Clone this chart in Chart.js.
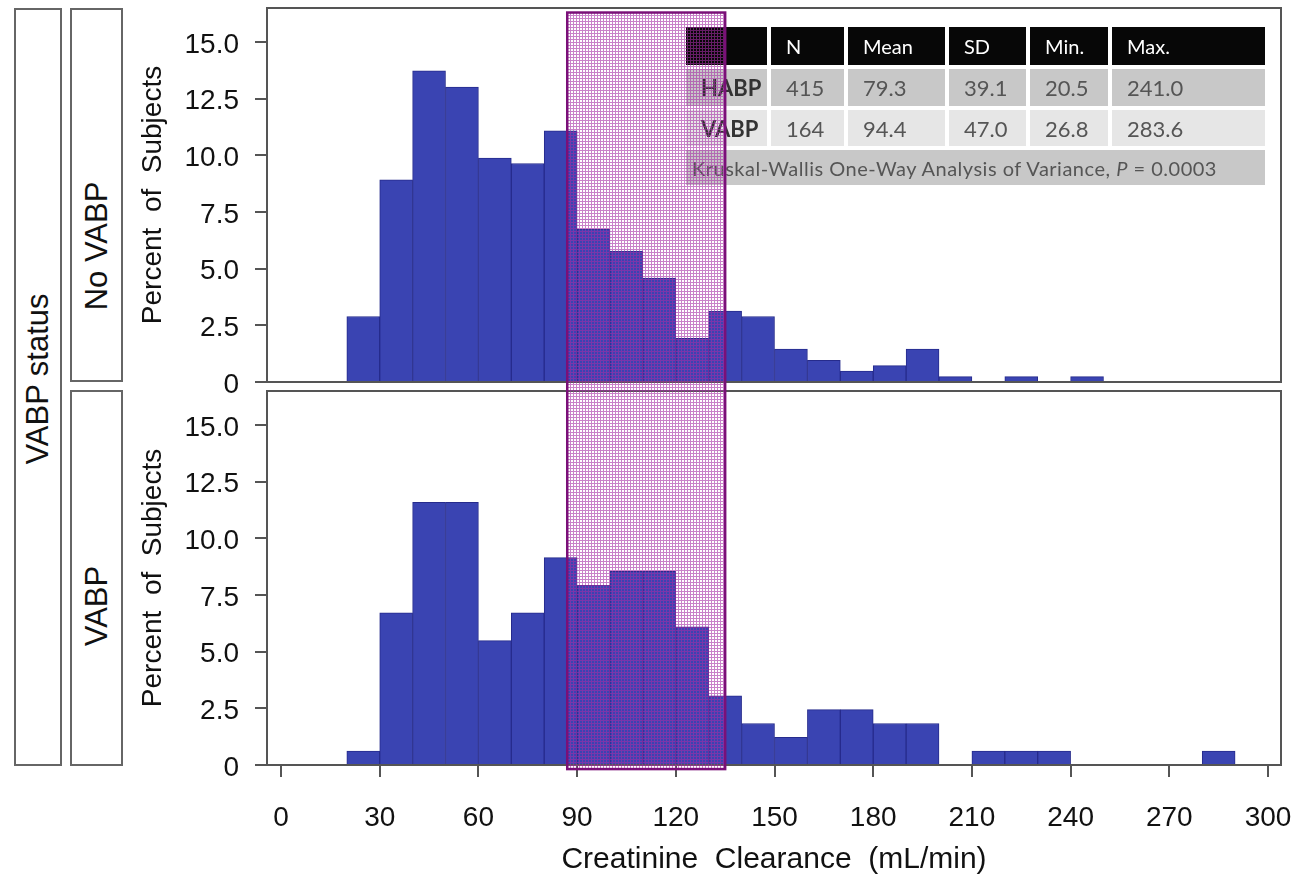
<!DOCTYPE html>
<html>
<head>
<meta charset="utf-8">
<script src="https://cdn.jsdelivr.net/npm/chart.js@4.4.1/dist/chart.umd.min.js"></script>
<style>
  html, body { margin: 0; padding: 0; background: #fff; overflow: hidden; }
  #wrap { position: relative; width: 1301px; height: 878px; }
  #wrap canvas { position: absolute; left: 0; top: 0; }
  #c1 { z-index: 1; }
  #c2 { z-index: 3; }
  .strip { position: absolute; z-index: 4; border: 2px solid #666; box-sizing: border-box; background: #fff; }
  .strip span { position: absolute; left: 50%; white-space: nowrap; font: 31px "Liberation Sans", Arial, sans-serif; color: #111;
                transform: translate(-50%, -50%) rotate(-90deg); }
  #stats { position: absolute; z-index: 2; left: 682px; top: 23px; border-collapse: separate; border-spacing: 4px 4px;
           font-family: Lato, "Open Sans", sans-serif; }
  #stats td { padding: 0 0 0 15px; font-size: 22px; color: #555; white-space: nowrap; }
  #stats tr.hd td { background: #070707; color: #fff; height: 38px; font-size: 20px; }
  #stats tr.r1 td { background: #c8c8c8; height: 37px; }
  #stats tr.r2 td { background: #e6e6e6; height: 36px; }
  #stats tr.r3 td { background: #c8c8c8; height: 35px; font-size: 20px; padding-left: 6px; letter-spacing: 0.5px; }
  #stats td.lbl { color: #333; font-weight: bold; }
</style>
</head>
<body>
<div id="wrap">
  <canvas id="c1" width="1301" height="878"></canvas>
  <table id="stats"></table>
  <canvas id="c2" width="1301" height="878"></canvas>
  <div class="strip" style="left:14px;top:8px;width:48px;height:758px"><span style="top:369px">VABP status</span></div>
  <div class="strip" style="left:70px;top:8px;width:53px;height:374px"><span style="top:236px">No VABP</span></div>
  <div class="strip" style="left:70px;top:390px;width:53px;height:376px"><span style="top:214px">VABP</span></div>
</div>
<script>
// histogram bins (mL/min, 10 wide) and percent of subjects per bin
const binStarts = [20, 30, 40, 50, 60, 70, 80, 90, 100, 110, 120, 130, 140, 150, 160, 170, 180, 190, 200, 210, 220, 230, 240, 250, 260, 270, 280];
const noVabpPct = [2.89, 8.92, 13.73, 13.01, 9.88, 9.64, 11.08, 6.75, 5.78, 4.58, 1.93, 3.13, 2.89, 1.45, 0.96, 0.48, 0.72, 1.45, 0.24, 0, 0.24, 0, 0.24, 0, 0, 0, 0];
const vabpPct   = [0.61, 6.71, 11.59, 11.59, 5.49, 6.71, 9.15, 7.93, 8.54, 8.54, 6.10, 3.05, 1.83, 1.22, 2.44, 2.44, 1.83, 1.83, 0, 0.61, 0.61, 0.61, 0, 0, 0, 0, 0.61];
const xTicks = [0, 30, 60, 90, 120, 150, 180, 210, 240, 270, 300];
const yTicks = [0, 2.5, 5, 7.5, 10, 12.5, 15];
const highlightX = [87, 135];     // shaded band, mL/min
const highlightTop = 16.3;        // top panel y value
const highlightBottom = -0.18;    // bottom panel y value

const statsHeader = ['', 'N', 'Mean', 'SD', 'Min.', 'Max.'];
const statsRows = [
  ['HABP', '415', '79.3', '39.1', '20.5', '241.0'],
  ['VABP', '164', '94.4', '47.0', '26.8', '283.6']
];
const statsColWidths = [81, 73, 97, 77, 78, 153];
const testNote = 'Kruskal-Wallis One-Way Analysis of Variance, <i>P</i> = 0.0003';

// stats table
(() => {
  let h = '<colgroup>' + statsColWidths.map(w => `<col style="width:${w}px">`).join('') + '</colgroup>';
  h += '<tr class="hd">' + statsHeader.map(t => `<td>${t}</td>`).join('') + '</tr>';
  statsRows.forEach((r, i) => {
    h += `<tr class="r${i + 1}">` + r.map((t, j) => `<td${j === 0 ? ' class="lbl"' : ''}>${t}</td>`).join('') + '</tr>';
  });
  h += `<tr class="r3"><td colspan="6">${testNote}</td></tr>`;
  document.getElementById('stats').innerHTML = h;
})();

const FONT = '"Liberation Sans", Arial, Helvetica, sans-serif';
Chart.defaults.font.family = FONT;
Chart.defaults.color = '#111';
const AXIS = '#555';

const frame = {
  id: 'frame',
  afterDraw(chart) {
    const { ctx, chartArea: a } = chart;
    ctx.save();
    ctx.strokeStyle = AXIS; ctx.lineWidth = 2;
    ctx.strokeRect(a.left, a.top, a.right - a.left, a.bottom - a.top);
    ctx.restore();
  }
};

function makeConfig(pct, showX, padding, yWidth) {
  return {
    type: 'bar',
    data: {
      datasets: [{
        data: binStarts.map((b, i) => ({ x: b + 5, y: pct[i] })),
        backgroundColor: '#3a44b2',
        borderColor: '#262b8c',
        borderWidth: 1,
        barPercentage: 1,
        categoryPercentage: 1
      }]
    },
    options: {
      responsive: false, animation: false,
      layout: { padding },
      plugins: { legend: { display: false }, tooltip: { enabled: false } },
      scales: {
        x: {
          type: 'linear', min: -4.26, max: 303.95, display: showX, offset: false,
          afterBuildTicks: s => { s.ticks = xTicks.map(v => ({ value: v })); },
          ticks: { font: { size: 28 }, padding: 24, maxRotation: 0, autoSkip: false, color: '#111' },
          grid: { offset: false, drawOnChartArea: false, tickLength: 12, color: AXIS, lineWidth: 2 },
          border: { color: AXIS, width: 2 },
          title: { display: true, text: 'Creatinine  Clearance  (mL/min)', font: { size: 30 }, color: '#111', padding: 0 },
          afterFit: s => { if (showX) { s.height = 113; s.paddingLeft = 0; s.paddingRight = 0; } }
        },
        y: {
          min: 0, max: 16.5,
          afterBuildTicks: s => { s.ticks = yTicks.map(v => ({ value: v })); },
          ticks: { callback: v => v === 0 ? '0' : v.toFixed(1), font: { size: 28 }, padding: 16, labelOffset: 3, color: '#111' },
          grid: { drawOnChartArea: false, tickLength: 12, color: AXIS, lineWidth: 2 },
          border: { color: AXIS, width: 2 },
          title: { display: true, text: 'Percent  of  Subjects', font: { size: 28 }, color: '#111', padding: 0 },
          afterFit: s => { s.width = yWidth; s.paddingTop = 0; s.paddingBottom = 0; }
        }
      }
    },
    plugins: [frame]
  };
}

const topChart = new Chart(document.getElementById('c1'),
  makeConfig(noVabpPct, false, { left: 136, right: 20, top: 8, bottom: 878 - 382 }, 131));

function meshPattern(ctx) {
  const c = document.createElement('canvas'); c.width = 3; c.height = 3;
  const g = c.getContext('2d');
  g.fillStyle = 'rgba(165,45,165,0.6)';
  g.fillRect(0, 0, 3, 1); g.fillRect(0, 1, 1, 2);
  return ctx.createPattern(c, 'repeat');
}

const band = {
  id: 'band',
  afterDraw(chart) {
    const { ctx } = chart;
    const x0 = chart.scales.x.getPixelForValue(highlightX[0]);
    const x1 = chart.scales.x.getPixelForValue(highlightX[1]);
    const y0 = topChart.scales.y.getPixelForValue(highlightTop);
    const y1 = chart.scales.y.getPixelForValue(highlightBottom);
    ctx.save();
    ctx.fillStyle = meshPattern(ctx);
    ctx.fillRect(x0, y0, x1 - x0, y1 - y0);
    ctx.strokeStyle = '#7a1078'; ctx.lineWidth = 2.5;
    ctx.strokeRect(x0, y0, x1 - x0, y1 - y0);
    ctx.restore();
  }
};

const cfg2 = makeConfig(vabpPct, true, { left: 136, right: 20, top: 391, bottom: 0 }, 131);
cfg2.plugins.push(band);
new Chart(document.getElementById('c2'), cfg2);
</script>
</body>
</html>
